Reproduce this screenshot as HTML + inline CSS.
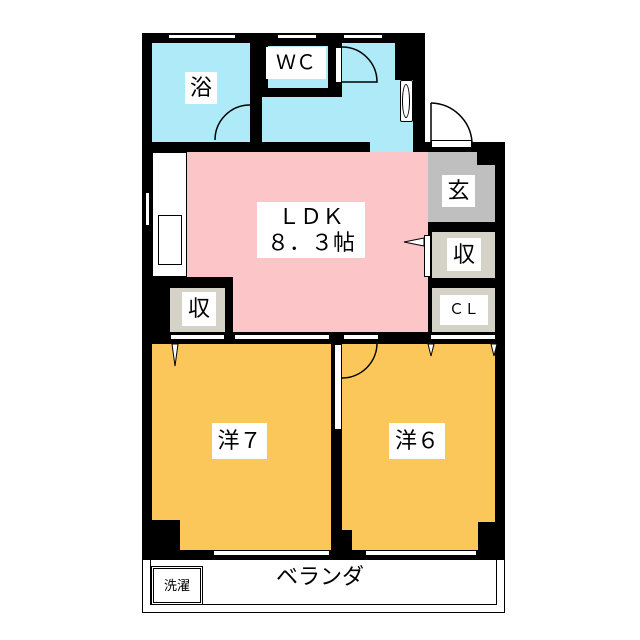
<!DOCTYPE html>
<html><head><meta charset="utf-8"><style>
body{margin:0;width:640px;height:640px;background:#fff;position:relative;overflow:hidden;font-family:"Liberation Sans","Noto Sans CJK JP",sans-serif}
div{position:absolute;box-sizing:border-box}
.b{background:#000}
.lbl{background:#fff;color:#000;text-align:center;font-size:22px}
</style></head><body>
<div class="b" style="left:142px;top:33px;width:283px;height:119px"></div>
<div style="left:152px;top:43px;width:98px;height:99px;background:#aeeaf7"></div>
<div style="left:262px;top:43px;width:151px;height:109px;background:#aeeaf7"></div>
<div class="b" style="left:262px;top:43px;width:80px;height:54px"></div>
<div style="left:268px;top:46px;width:60px;height:42px;background:#aeeaf7"></div>
<div class="b" style="left:395px;top:43px;width:30px;height:37px"></div>
<div class="b" style="left:142px;top:142px;width:228px;height:10px"></div>
<div style="left:168px;top:34px;width:68px;height:5px;background:#fff;border:1px solid #000"></div>
<div style="left:277px;top:34px;width:40px;height:5px;background:#fff;border:1px solid #000"></div>
<div style="left:343px;top:34px;width:40px;height:5px;background:#fff;border:1px solid #000"></div>
<div style="left:335px;top:47px;width:7px;height:36px;background:#fff;border:1px solid #000"></div>
<div style="left:400px;top:80px;width:13px;height:42px;background:#fff;border:1px solid #000;border-radius:2px"></div>
<div style="left:402px;top:84px;width:8px;height:34px;border:1px solid #000;border-radius:50%"></div>
<div class="b" style="left:413px;top:80px;width:12px;height:72px"></div>
<div class="b" style="left:423px;top:142px;width:82px;height:418px"></div>
<div style="left:431px;top:140px;width:41px;height:8px;background:#fff;border:1px solid #000"></div>
<div style="left:428px;top:152px;width:67px;height:70px;background:#bfbfbf"></div>
<div class="b" style="left:477px;top:152px;width:28px;height:13px"></div>
<div style="left:432px;top:232px;width:63px;height:46px;background:#d5d2c7"></div>
<div style="left:432px;top:288px;width:63px;height:44px;background:#d5d2c7"></div>
<div class="b" style="left:142px;top:152px;width:10px;height:200px"></div>
<div style="left:187px;top:152px;width:241px;height:180px;background:#fcc6c8"></div>
<div style="left:152px;top:152px;width:35px;height:125px;background:#fff;border:1px solid #000"></div>
<div style="left:158px;top:215px;width:24px;height:50px;background:#fff;border:1px solid #000"></div>
<div style="left:145px;top:192px;width:5px;height:34px;background:#fff;border:1px solid #000"></div>
<div class="b" style="left:142px;top:277px;width:91px;height:60px"></div>
<div style="left:170px;top:288px;width:55px;height:44px;background:#d5d2c7"></div>
<div style="left:424px;top:235px;width:7px;height:42px;background:#fff;border:1px solid #000"></div>
<div class="b" style="left:142px;top:332px;width:363px;height:12px"></div>
<div style="left:170px;top:334px;width:55px;height:6px;background:#fff;border:1px solid #000"></div>
<div style="left:234px;top:334px;width:96px;height:6px;background:#fff;border:1px solid #000"></div>
<div style="left:343px;top:334px;width:36px;height:6px;background:#fff;border:1px solid #000"></div>
<div style="left:430px;top:334px;width:66px;height:6px;background:#fff;border:1px solid #000"></div>
<div class="b" style="left:142px;top:342px;width:363px;height:218px"></div>
<div style="left:152px;top:344px;width:179px;height:206px;background:#fcc75a"></div>
<div style="left:342px;top:344px;width:153px;height:206px;background:#fcc75a"></div>
<div class="b" style="left:152px;top:520px;width:28px;height:30px"></div>
<div class="b" style="left:478px;top:522px;width:17px;height:28px"></div>
<div class="b" style="left:342px;top:530px;width:10px;height:20px"></div>
<div style="left:334px;top:344px;width:8px;height:86px;background:#fff;border:1px solid #000"></div>
<div style="left:213px;top:550px;width:117px;height:6px;background:#fff;border:1px solid #000"></div>
<div style="left:365px;top:550px;width:112px;height:6px;background:#fff;border:1px solid #000"></div>
<svg style="position:absolute;left:0;top:0" width="640" height="640">
<path d="M342 47 A35 35 0 0 1 377 82 L342 82" fill="none" stroke="#000" stroke-width="1.5"/>
<path d="M215 140 A35 35 0 0 1 250 105" fill="none" stroke="#000" stroke-width="1.5"/>
<path d="M431 103 A42 42 0 0 1 472 142" fill="none" stroke="#000" stroke-width="1.5"/>
<line x1="431" y1="103" x2="431" y2="142" stroke="#000" stroke-width="1.5"/>
<path d="M377 342 A35 35 0 0 1 342 378" fill="none" stroke="#000" stroke-width="1.5"/>
<path d="M172 344 L178 344 L175 366 Z" fill="#fff" stroke="#000"/>
<path d="M428 344 L434 344 L431 356 Z" fill="#fff" stroke="#000"/>
<path d="M491 344 L497 344 L494 356 Z" fill="#fff" stroke="#000"/>
<path d="M424 238 L424 246 L404 242 Z" fill="#fff" stroke="#000"/>
</svg>
<div style="left:142px;top:560px;width:363px;height:53px;border:1.5px solid #000;border-top:none;background:#fff"></div>
<div style="left:150px;top:560px;width:347px;height:45px;border:1.5px solid #000;border-top:none"></div>
<div style="left:151px;top:566px;width:52px;height:39px;border:3px double #000;font-size:13px;text-align:center;line-height:33px">洗濯</div>
<div style="left:250px;top:562px;width:140px;height:30px;font-size:22px;text-align:center;line-height:30px">ベランダ</div>
<div class="lbl" style="left:185px;top:72px;width:32px;height:32px;line-height:32px">浴</div>
<div class="lbl" style="left:266px;top:47px;width:60px;height:32px;line-height:32px;font-size:20px">ＷＣ</div>
<div class="lbl" style="left:257px;top:202px;width:108px;height:56px;line-height:26px;padding-top:2px">ＬＤＫ<br>８．３帖</div>
<div class="lbl" style="left:442px;top:175px;width:33px;height:32px;line-height:32px">玄</div>
<div class="lbl" style="left:447px;top:238px;width:34px;height:33px;line-height:33px">収</div>
<div class="lbl" style="left:440px;top:295px;width:48px;height:30px;line-height:30px;font-size:15px">ＣＬ</div>
<div class="lbl" style="left:182px;top:292px;width:34px;height:34px;line-height:34px">収</div>
<div class="lbl" style="left:212px;top:423px;width:55px;height:36px;line-height:36px">洋７</div>
<div class="lbl" style="left:389px;top:423px;width:56px;height:36px;line-height:36px">洋６</div>
</body></html>
